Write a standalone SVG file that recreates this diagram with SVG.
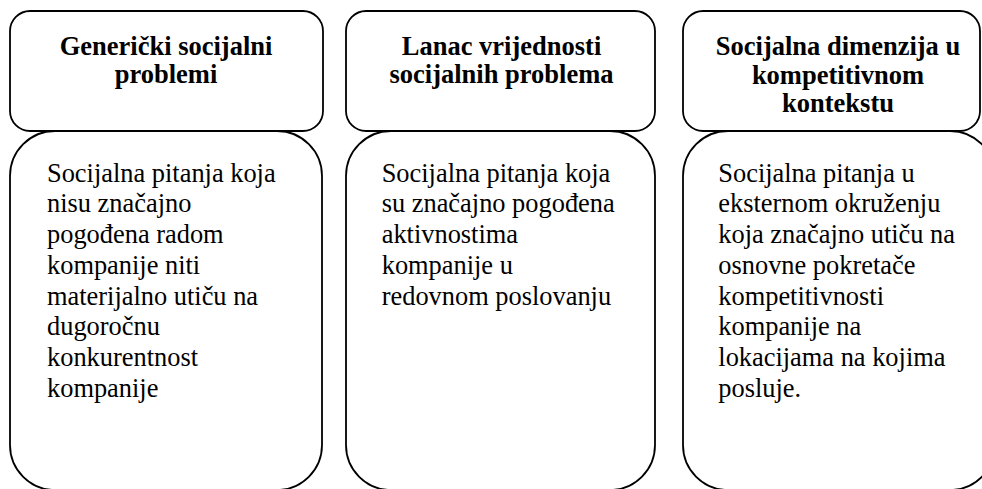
<svg xmlns="http://www.w3.org/2000/svg" width="982" height="489" viewBox="0 0 982 489">
<style>
.box{fill:none;stroke:#000;stroke-width:1.8}
.t{font-family:"Liberation Serif","Times New Roman",serif;font-size:26.5px;font-weight:bold;fill:#000;text-anchor:middle}
.b{font-family:"Liberation Serif","Times New Roman",serif;font-size:26.4px;fill:#000}
</style>
<rect width="982" height="489" fill="#fff"/>
<g id="body1">
<rect class="box" x="10" y="131" width="312" height="359" rx="45" ry="45"/>
<text class="b" x="47" y="181.7">Socijalna pitanja koja</text>
<text class="b" x="47" y="212.4">nisu značajno</text>
<text class="b" x="47" y="243.1">pogođena radom</text>
<text class="b" x="47" y="273.8">kompanije niti</text>
<text class="b" x="47" y="304.5">materijalno utiču na</text>
<text class="b" x="47" y="335.2">dugoročnu</text>
<text class="b" x="47" y="365.9">konkurentnost</text>
<text class="b" x="47" y="396.6">kompanije</text>
</g>
<g id="body2">
<rect class="box" x="346" y="131" width="309" height="359" rx="45" ry="45"/>
<text class="b" x="381.7" y="181.7">Socijalna pitanja koja</text>
<text class="b" x="381.7" y="212.4">su značajno pogođena</text>
<text class="b" x="381.7" y="243.1">aktivnostima</text>
<text class="b" x="381.7" y="273.8">kompanije u</text>
<text class="b" x="381.7" y="304.5">redovnom poslovanju</text>
</g>
<g id="body3">
<rect class="box" x="683" y="131" width="312" height="359" rx="45" ry="45"/>
<text class="b" x="718.3" y="181.7">Socijalna pitanja u</text>
<text class="b" x="718.3" y="212.4">eksternom okruženju</text>
<text class="b" x="718.3" y="243.1">koja značajno utiču na</text>
<text class="b" x="718.3" y="273.8">osnovne pokretače</text>
<text class="b" x="718.3" y="304.5">kompetitivnosti</text>
<text class="b" x="718.3" y="335.2">kompanije na</text>
<text class="b" x="718.3" y="365.9">lokacijama na kojima</text>
<text class="b" x="718.3" y="396.6">posluje.</text>
</g>
<g id="head1">
<rect class="box" x="10" y="11" width="313" height="120" rx="20" ry="20"/>
<text class="t" x="166" y="55">Generički socijalni</text>
<text class="t" x="166" y="83.3">problemi</text>
</g>
<g id="head2">
<rect class="box" x="346" y="11" width="309" height="120" rx="20" ry="20"/>
<text class="t" x="501.5" y="55">Lanac vrijednosti</text>
<text class="t" x="501.5" y="83.3">socijalnih problema</text>
</g>
<g id="head3">
<rect class="box" x="683" y="11" width="297" height="120" rx="20" ry="20"/>
<text class="t" x="838" y="55">Socijalna dimenzija u</text>
<text class="t" x="838" y="83.6">kompetitivnom</text>
<text class="t" x="838" y="112.2">kontekstu</text>
</g>
<g id="connectors"/>
</svg>
